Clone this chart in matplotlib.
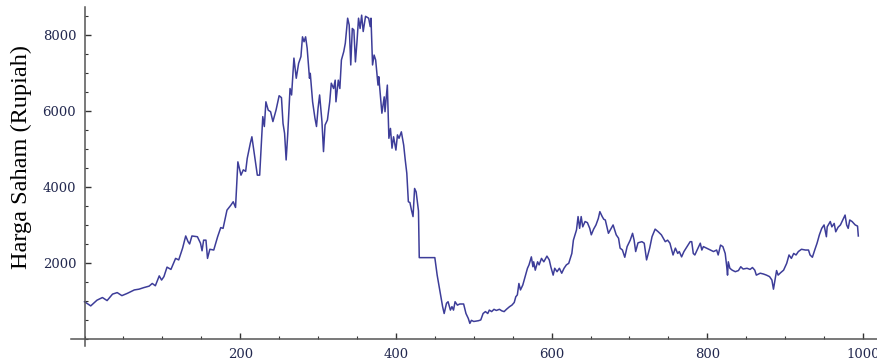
import numpy as np
import matplotlib.pyplot as plt
from matplotlib.ticker import MultipleLocator

# trading day index and closing price (Rupiah)
hari = [
    0, 8, 16, 23, 29, 36, 42, 48, 55, 64, 70, 76, 83, 87, 91, 96, 99, 102, 106, 111,
    117, 121, 126, 130, 133, 135, 138, 145, 149, 151, 153, 156, 158, 161, 166, 171, 175, 178, 183, 188,
    191, 194, 197, 201, 204, 207, 209, 213, 215, 218, 222, 225, 228,
    229, 231, 233, 236, 239, 242, 246, 250, 253, 255, 257, 259, 261, 264, 266, 269, 272,
    275, 278, 280, 282, 284, 286, 289, 290, 293, 296, 298, 300, 302, 305, 307, 309, 312, 315,
    317, 320, 322, 323, 326, 328, 330, 333, 335, 338, 340, 342, 344, 346, 348, 350, 352, 354,
    356, 358, 361, 365, 367, 368, 370, 372, 374, 377, 378, 380, 382, 385, 386, 389, 391, 393,
    395, 397, 400, 402, 404, 407, 410, 412,
    414, 416, 418, 420, 422, 424, 426, 428, 429, 430, 450, 453, 457, 460, 462, 465, 467, 470,
    472, 474, 476, 479, 482, 487, 490, 493, 495, 497, 500, 506, 509, 512, 515, 518, 520, 523,
    526, 529, 533, 536, 539, 542, 546, 549, 552, 554, 556, 558, 560, 563, 566, 569, 571, 574,
    576, 577, 579, 582, 584, 587, 590, 594, 597, 599, 602, 604, 607, 610, 613, 616, 619, 622,
    624, 626, 628, 630, 632, 634, 636, 638, 640, 643, 646, 649, 651, 654, 657, 660, 662, 665,
    667, 669, 673,
    679, 683, 686, 688, 691, 694, 697, 701, 704, 706, 708, 711, 716, 719, 722, 726, 729, 733,
    737, 741, 746, 749, 752, 756, 759, 762, 764, 767, 770, 774, 778, 780, 782, 784, 787, 791,
    793, 795, 799, 804, 808, 812, 814, 817, 820, 823, 825, 826, 827, 829, 832, 836, 840, 843,
    846, 851, 855, 858, 861, 863, 868, 872, 876, 880, 883, 885, 887, 889, 891, 894, 898, 902,
    905, 908, 911, 914, 917, 921, 926, 930, 932, 935, 938, 941, 944, 947, 950, 953, 954, 958,
    960, 963, 965, 968, 971, 975, 977, 979, 981, 983, 986, 990, 993, 994,
]
harga = [
    990, 880, 1030, 1100, 1020, 1190, 1230, 1150, 1210, 1300, 1320, 1360, 1400, 1470, 1410, 1670, 1560, 1650, 1900, 1840,
    2130, 2090, 2400, 2720, 2570, 2510, 2720, 2700, 2530, 2330, 2610, 2610, 2130, 2370, 2350, 2700, 2940, 2920, 3400, 3530,
    3620, 3470, 4670, 4320, 4460, 4420, 4760, 5160, 5330, 4900, 4320, 4320, 5510,
    5860, 5600, 6250, 6030, 5990, 5730, 6030, 6410, 6360, 5680, 5420, 4720, 5380, 6600, 6430, 7400, 6870,
    7260, 7440, 7960, 7830, 7960, 7660, 6870, 7000, 6250, 5820, 5600, 6080, 6430, 5730, 4940, 5640, 5770, 6250,
    6740, 6600, 6820, 6250, 6820, 6600, 7350, 7570, 7790, 8450, 8270, 7220, 8180, 8140, 7300, 7830, 8450, 8180,
    8530, 8100, 8500, 8450, 8230, 8450, 7220, 7480, 7350, 6690, 6910, 6430, 5950, 6380, 5990, 6690, 5290, 5550,
    5030, 5330, 4980, 5380, 5290, 5460, 5110, 4720,
    4370, 3620, 3600, 3400, 3230, 3970, 3880, 3530, 3380, 2150, 2150, 1690, 1210, 860, 680, 950, 990, 770,
    860, 770, 990, 900, 930, 930, 680, 550, 420, 500, 470, 490, 510, 680, 730, 680, 770, 730,
    790, 760, 790, 750, 730, 790, 860, 900, 970, 1120, 1170, 1470, 1300, 1430, 1650, 1870, 1960, 2170,
    1910, 2040, 1820, 2040, 1960, 2130, 2040, 2190, 2090, 1910, 1690, 1870, 1780, 1870, 1740, 1870, 1960, 2000,
    2130, 2260, 2610, 2750, 2880, 3230, 2920, 3230, 2960, 3100, 3070, 2920, 2750, 2900, 3010, 3180, 3360, 3230,
    3160, 3140, 2790,
    3010, 2750, 2660, 2400, 2350, 2160, 2440, 2610, 2790, 2610, 2310, 2540, 2570, 2530, 2090, 2400, 2700, 2900,
    2830, 2750, 2570, 2610, 2530, 2220, 2400, 2260, 2310, 2170, 2310, 2440, 2570, 2570, 2260, 2220, 2350, 2530,
    2350, 2440, 2400, 2350, 2310, 2350, 2220, 2480, 2440, 2260, 1910, 1690, 2040, 1870, 1820, 1780, 1810, 1910,
    1850, 1870, 1840, 1890, 1820, 1690, 1740, 1720, 1690, 1650, 1560, 1320, 1560, 1810, 1690, 1750, 1820, 2000,
    2220, 2130, 2260, 2220, 2310, 2370, 2350, 2350, 2220, 2160, 2350, 2530, 2750, 2920, 3010, 2700, 2960, 3100,
    2960, 3050, 2830, 2950, 3010, 3180, 3270, 3010, 2920, 3140, 3100, 3010, 2980, 2720,
]

fig = plt.figure(figsize=(8.77, 3.6), dpi=100)
ax = fig.add_axes([70.5 / 877, 1 - 345.8 / 360, 1 - 70.5 / 877, (345.8 - 6.8) / 360])

ax.plot(hari, harga, color="#3d3d99", lw=1.1)

ax.set_xlim(-18, 1018)
ax.set_ylim(-170, 8750)

# axes cross at the origin
for s in ["top", "right"]:
    ax.spines[s].set_visible(False)
ax.spines["left"].set_position(("data", 0))
ax.spines["bottom"].set_position(("data", 0))
for s in ["left", "bottom"]:
    ax.spines[s].set_color("#555555")
    ax.spines[s].set_linewidth(1.1)

ax.xaxis.set_major_locator(MultipleLocator(200))
ax.xaxis.set_minor_locator(MultipleLocator(50))
ax.yaxis.set_major_locator(MultipleLocator(2000))
ax.yaxis.set_minor_locator(MultipleLocator(500))
ax.set_xticks([200, 400, 600, 800, 1000])
ax.set_yticks([2000, 4000, 6000, 8000])

ax.tick_params(which="major", direction="in", length=4, width=1, color="#333333",
               labelsize=9.5, labelcolor="#22284f", pad=6)
ax.tick_params(which="minor", direction="in", length=2.5, width=0.8, color="#333333")
for lab in ax.get_xticklabels() + ax.get_yticklabels():
    lab.set_family("DejaVu Serif")

fig.text(21 / 877, 1 - 157 / 360, "Harga Saham (Rupiah)", rotation=90,
         ha="center", va="center", fontsize=17.5, family="Liberation Serif")

fig.savefig("out.png", dpi=100)
